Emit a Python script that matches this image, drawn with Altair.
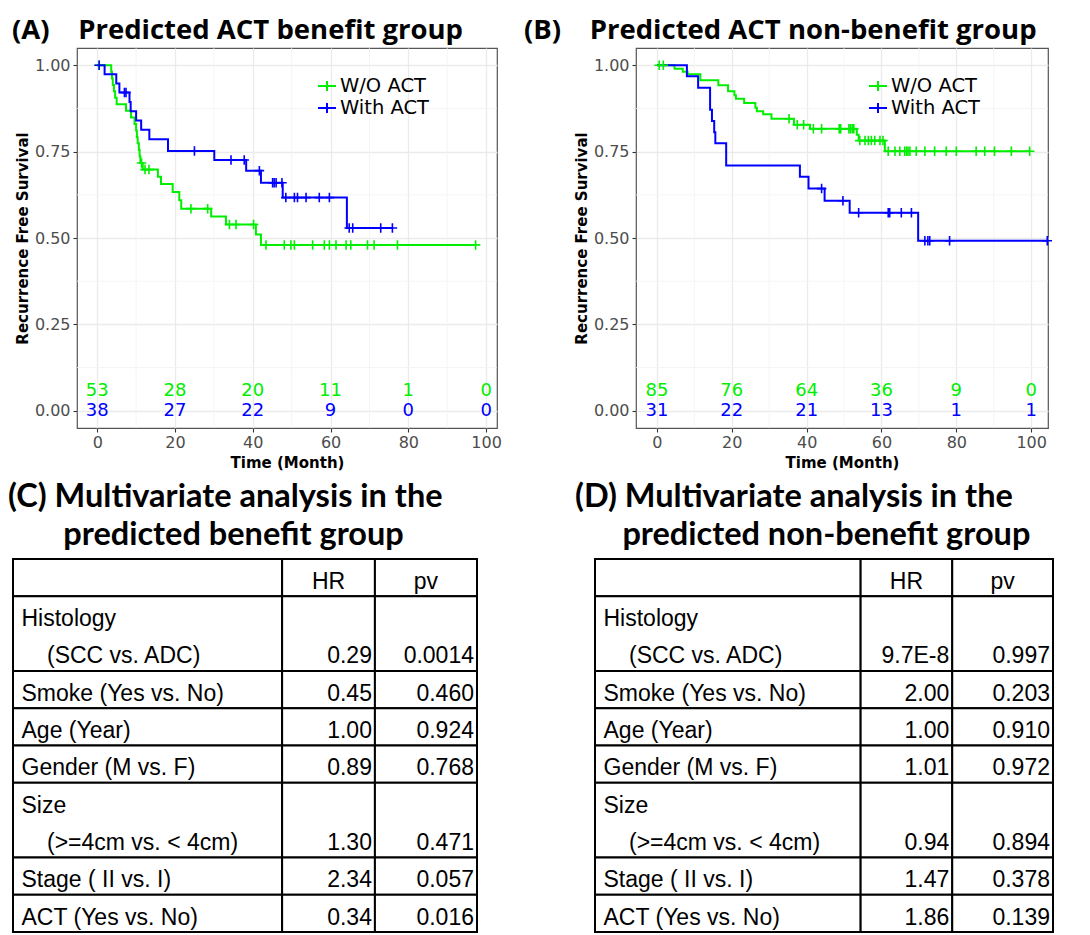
import altair as alt
import pandas as pd

# ---------------- data ----------------
GROUPS = ["W/O ACT", "With ACT"]
GROUP_COLORS = ["#00EE00", "#0000FF"]

X_TICKS = [0, 20, 40, 60, 80, 100]
Y_TICKS = [0, 0.25, 0.5, 0.75, 1.0]
MINOR_X = [10, 30, 50, 70, 90]
MINOR_Y = [0.125, 0.375, 0.625, 0.875]
RISK_TIMES = [0, 20, 40, 60, 80, 100]

# Panel A : predicted ACT benefit group
A_WO_T = [0, 3.6, 3.8, 4.0, 4.3, 4.6, 5.0, 7.4, 8.7, 9.6, 10.0, 10.2, 10.4, 10.7, 10.9,
          11.1, 11.7, 15.6, 16.4, 19.4, 21.1, 21.6, 29.3, 33.1, 40.8, 42.1]
A_WO_S = [1.0, 0.981, 0.962, 0.943, 0.925, 0.906, 0.887, 0.868, 0.849, 0.830, 0.811, 0.792,
          0.774, 0.755, 0.736, 0.717, 0.698, 0.677, 0.656, 0.633, 0.609, 0.585, 0.562, 0.539,
          0.510, 0.480]
A_WO_END = 97.3
A_WO_CENS = [0.5, 11.4, 12.3, 13.3, 24.1, 28.4, 34.0, 35.7, 40.2, 43.4, 48.1, 49.8, 50.7,
             55.4, 58.4, 59.7, 61.4, 64.0, 65.2, 69.5, 71.2, 77.2, 97.3]

A_W_T = [0, 1.9, 4.9, 5.7, 8.3, 8.6, 10.0, 11.3, 13.4, 18.2, 30.1, 38.3, 42.1, 47.7, 64.2]
A_W_S = [1.0, 0.974, 0.947, 0.921, 0.894, 0.867, 0.840, 0.813, 0.786, 0.752, 0.726, 0.695,
         0.660, 0.617, 0.529]
A_W_END = 75.9
A_W_CENS = [0.5, 7.0, 7.4, 25.0, 34.4, 37.8, 41.7, 45.1, 45.5, 46.0, 47.5, 48.5, 50.7, 51.5,
            53.7, 57.1, 59.7, 64.8, 65.7, 72.9, 75.9]

A_RISK_WO = [53, 28, 20, 11, 1, 0]
A_RISK_W = [38, 27, 22, 9, 0, 0]

# Panel B : predicted ACT non-benefit group
B_WO_T = [0, 4.7, 6.9, 8.2, 11.6, 16.4, 19.0, 20.7, 21.1, 23.3, 26.3, 26.7, 28.4, 30.6, 36.6,
          40.9, 53.4, 53.9, 60.9]
B_WO_S = [1.0, 0.990, 0.981, 0.974, 0.957, 0.942, 0.925, 0.913, 0.903, 0.891, 0.877, 0.867,
          0.858, 0.845, 0.828, 0.816, 0.799, 0.782, 0.751]
B_WO_END = 99.6
B_WO_CENS = [0.6, 1.7, 35.3, 37.5, 39.2, 41.8, 44.0, 48.7, 49.1, 51.3, 51.7, 52.2, 52.6, 54.2,
             55.6, 56.5, 57.3, 58.2, 59.6, 60.4, 61.8, 63.6, 64.9, 66.2, 66.7, 67.1, 67.6, 69.3,
             71.6, 74.2, 77.3, 80.0, 85.3, 87.6, 90.2, 94.7, 99.6]

B_W_T = [0, 8.0, 11.0, 14.2, 14.7, 15.3, 15.6, 18.5, 38.2, 40.5, 44.8, 51.5, 69.8]
B_W_S = [1.0, 0.968, 0.935, 0.871, 0.839, 0.806, 0.774, 0.710, 0.677, 0.643, 0.608, 0.573, 0.492]
B_W_END = 104.3
B_W_CENS = [44.0, 49.7, 53.9, 61.8, 62.2, 65.3, 68.0, 71.6, 72.4, 72.9, 78.2, 104.3]

B_RISK_WO = [85, 76, 64, 36, 9, 0]
B_RISK_W = [31, 22, 21, 13, 1, 1]

# Tables
HEADER = ["", "HR", "pv"]
ROW_LABELS = [["Histology", "(SCC vs. ADC)"], ["Smoke (Yes vs. No)"], ["Age (Year)"],
              ["Gender (M vs. F)"], ["Size", "(>=4cm vs. < 4cm)"], ["Stage ( II vs. I)"],
              ["ACT (Yes vs. No)"]]
C_HR = ["0.29", "0.45", "1.00", "0.89", "1.30", "2.34", "0.34"]
C_PV = ["0.0014", "0.460", "0.924", "0.768", "0.471", "0.057", "0.016"]
D_HR = ["9.7E-8", "2.00", "1.00", "1.01", "0.94", "1.47", "1.86"]
D_PV = ["0.997", "0.203", "0.910", "0.972", "0.894", "0.378", "0.139"]

NB = "\u00a0"
ZW = "\u200b"

# ---------------- helpers ----------------
PLUS = "M-1,0H1M0,-1V1"


def step_value(times, surv, t):
    v = surv[0]
    for ti, si in zip(times, surv):
        if ti <= t:
            v = si
    return v


def km_frames(series):
    curve_rows, cens_rows = [], []
    for g, times, surv, end, cens in series:
        for t, s in zip(times, surv):
            curve_rows.append({"t": t, "s": s, "group": g})
        curve_rows.append({"t": end, "s": surv[-1], "group": g})
        for c in cens:
            cens_rows.append({"t": c, "s": step_value(times, surv, c), "group": g})
    return pd.DataFrame(curve_rows), pd.DataFrame(cens_rows)


def km_panel(series, risk_wo, risk_w, x_domain, width, title_text, title_dx, legend_x):
    curves, cens = km_frames(series)
    risk = pd.DataFrame({
        "t": RISK_TIMES + RISK_TIMES,
        "n": risk_wo + risk_w,
        "group": [GROUPS[0]] * len(RISK_TIMES) + [GROUPS[1]] * len(RISK_TIMES),
    })
    xs = alt.Scale(domain=x_domain, nice=False, zero=False)
    ys = alt.Scale(domain=[-0.05, 1.05], nice=False, zero=False)
    x_axis = alt.Axis(values=X_TICKS, title="Time (Month)", labelFont="DejaVu Sans",
                      labelFontSize=16, labelColor="#4D4D4D", tickColor="#333333",
                      tickSize=4, tickWidth=1.1, domain=False, grid=True,
                      gridColor="#EBEBEB", gridWidth=1.3, labelPadding=2,
                      titleFont="DejaVu Sans", titleFontSize=15, titleFontWeight="bold",
                      titleColor="black", titlePadding=5)
    y_axis = alt.Axis(values=Y_TICKS, format=".2f", title="Recurrence Free Survival",
                      labelFont="DejaVu Sans", labelFontSize=16, labelColor="#4D4D4D",
                      tickColor="#333333", tickSize=4, tickWidth=1.1, domain=False,
                      grid=True, gridColor="#EBEBEB", gridWidth=1.3, labelPadding=3,
                      titleFont="DejaVu Sans", titleFontSize=15, titleFontWeight="bold",
                      titleColor="black", titlePadding=4)
    X = alt.X("t:Q", scale=xs, axis=x_axis)
    Y = alt.Y("s:Q", scale=ys, axis=y_axis)
    cscale = alt.Scale(domain=GROUPS, range=GROUP_COLORS)
    legend = alt.Legend(orient="none", legendX=legend_x, legendY=28, title=None,
                        labelFont="DejaVu Sans", labelFontSize=19.5, labelColor="black",
                        symbolType="M-1,0H1M0,-0.55V0.55", symbolSize=324,
                        symbolStrokeWidth=2, labelOffset=3, rowPadding=2, padding=0)

    minor_x = alt.Chart(pd.DataFrame({"t": MINOR_X})).mark_rule(
        color="#F3F3F3", strokeWidth=0.8).encode(x=X)
    minor_y = alt.Chart(pd.DataFrame({"s": MINOR_Y})).mark_rule(
        color="#F3F3F3", strokeWidth=0.8).encode(y=Y)
    lines = alt.Chart(curves).mark_line(interpolate="step-after", strokeWidth=2).encode(
        x=X, y=Y, color=alt.Color("group:N", scale=cscale, legend=legend))
    marks = alt.Chart(cens).mark_point(shape=PLUS, filled=False, size=90, strokeWidth=1.6,
                                       opacity=1).encode(
        x=X, y=Y, color=alt.Color("group:N", scale=cscale, legend=None))
    risk_text = alt.Chart(risk).transform_calculate(
        s=f"datum.group === '{GROUPS[0]}' ? 0.058 : 0"
    ).mark_text(font="DejaVu Sans", fontSize=18, baseline="middle").encode(
        x=X, y=Y, text="n:Q", color=alt.Color("group:N", scale=cscale, legend=None))

    return alt.layer(minor_x, minor_y, lines, marks, risk_text).properties(
        width=width, height=380,
        view=alt.ViewBackground(stroke="#555555", strokeWidth=1.2),
        title=alt.TitleParams(text=title_text, anchor="start", frame="group", dx=title_dx,
                              font="Open Sans", fontSize=27.5, fontWeight="bold",
                              color="black", offset=3),
    )


COL_EDGES = [0.0, 0.58, 0.78, 1.0]
BASE = 0.2


def table_chart(hr, pv, width, title_lines, title_dx):
    cells, left_txt, right_txt, head_txt = [], [], [], []
    for j in range(3):
        cells.append(dict(x=COL_EDGES[j], x2=COL_EDGES[j + 1], y=0, y2=1))
    for j, h in enumerate(HEADER):
        if h:
            head_txt.append(dict(x=(COL_EDGES[j] + COL_EDGES[j + 1]) / 2, y=1 - BASE, text=h))
    pad_l, indent, pad_r = 8.5 / width, 34.0 / width, 3.0 / width
    top = 1
    for i, lines in enumerate(ROW_LABELS):
        n = len(lines)
        for j in range(3):
            cells.append(dict(x=COL_EDGES[j], x2=COL_EDGES[j + 1], y=top, y2=top + n))
        for k, line in enumerate(lines):
            left_txt.append(dict(x=pad_l if k == 0 else indent, y=top + k + 1 - BASE, text=line))
        right_txt.append(dict(x=COL_EDGES[2] - pad_r, y=top + n - BASE, text=hr[i]))
        right_txt.append(dict(x=COL_EDGES[3] - pad_r, y=top + n - BASE, text=pv[i]))
        top += n
    n_units = top
    xs = alt.Scale(domain=[0, 1], nice=False, zero=False)
    ys = alt.Scale(domain=[0, n_units], reverse=True, nice=False, zero=False)
    X = alt.X("x:Q", scale=xs, axis=None)
    Y = alt.Y("y:Q", scale=ys, axis=None)
    rects = alt.Chart(pd.DataFrame(cells)).mark_rect(
        fill="white", stroke="black", strokeWidth=2).encode(x=X, x2="x2:Q", y=Y, y2="y2:Q")
    tstyle = dict(baseline="alphabetic", font="Liberation Sans", fontSize=23, color="black")
    lt = alt.Chart(pd.DataFrame(left_txt)).mark_text(align="left", **tstyle).encode(
        x=X, y=Y, text="text:N")
    rt = alt.Chart(pd.DataFrame(right_txt)).mark_text(align="right", **tstyle).encode(
        x=X, y=Y, text="text:N")
    ht = alt.Chart(pd.DataFrame(head_txt)).mark_text(align="center", **tstyle).encode(
        x=X, y=Y, text="text:N")
    return alt.layer(rects, lt, rt, ht).properties(
        width=width, height=373,
        view=alt.ViewBackground(stroke="transparent", strokeWidth=0),
        title=alt.TitleParams(text=title_lines, anchor="start", frame="group", dx=title_dx,
                              font="Lato", fontSize=32.5, fontWeight="bold", color="black",
                              lineHeight=38, offset=7),
    )


# ---------------- build ----------------
panel_a = km_panel(
    [(GROUPS[0], A_WO_T, A_WO_S, A_WO_END, A_WO_CENS),
     (GROUPS[1], A_W_T, A_W_S, A_W_END, A_W_CENS)],
    A_RISK_WO, A_RISK_W, [-5.2, 102.8], 420,
    "(A)" + NB * 4 + "Predicted ACT benefit group", -65, 240)

panel_b = km_panel(
    [(GROUPS[0], B_WO_T, B_WO_S, B_WO_END, B_WO_CENS),
     (GROUPS[1], B_W_T, B_W_S, B_W_END, B_W_CENS)],
    B_RISK_WO, B_RISK_W, [-5.6, 104.5], 412,
    "(B)" + NB * 4 + "Predicted ACT non-benefit group", -112, 232)

table_c = table_chart(C_HR, C_PV, 464,
                      ["(C) Multivariate analysis in the",
                       ZW + NB * 7 + "predicted benefit group"], -5)
table_d = table_chart(D_HR, D_PV, 458,
                      ["(D) Multivariate analysis in the",
                       ZW + NB * 6 + "predicted non-benefit group"], -20)

# an empty, invisible cell that lets the table row start left of the plot origin
spacer = alt.Chart(pd.DataFrame({"v": [0]})).mark_point(size=0, opacity=0, strokeWidth=0).encode(
    x=alt.value(0), y=alt.value(0)
).properties(width=1, height=1, view=alt.ViewBackground(stroke="transparent", strokeWidth=0))

plots = alt.hconcat(panel_a, panel_b, spacing=21).resolve_scale(
    color="independent").resolve_legend(color="independent")
top_row = alt.hconcat(spacer, plots, spacing=-3)
bottom_row = alt.hconcat(table_c, table_d, spacing=97)

chart = alt.concat(top_row, bottom_row, columns=1, align="none", spacing=9).properties(
    padding={"left": 0, "top": 8, "right": 0, "bottom": 0}, background="white"
).configure_view(strokeWidth=0).configure(font="DejaVu Sans")

chart.save("out.html", embed_options={"renderer": "svg", "actions": False})
